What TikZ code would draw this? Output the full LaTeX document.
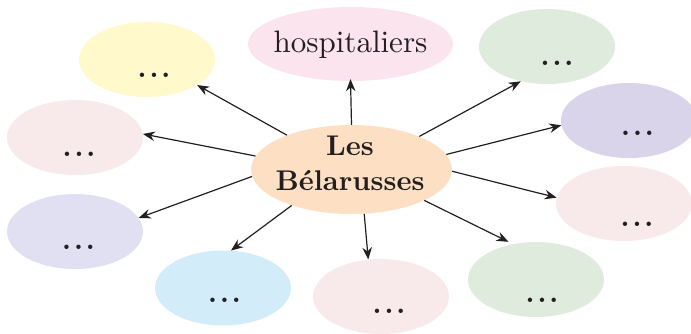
\documentclass[tikz,border=0pt]{standalone}
\usepackage{fontspec}
\newfontfamily\lmten{lmroman10-regular}[Extension=.otf, BoldFont=lmroman10-bold]
\usetikzlibrary{shapes.geometric,arrows.meta}
\definecolor{txt}{HTML}{231F20}
\definecolor{cpeach}{HTML}{FDE0C4}
\definecolor{chosp}{HTML}{FCE4EF}
\definecolor{cyel}{HTML}{FFF9CC}
\definecolor{cpink}{HTML}{F8EAEA}
\definecolor{clav}{HTML}{E0E0F2}
\definecolor{cblue}{HTML}{D3ECF9}
\definecolor{cgreen}{HTML}{DFEBDC}
\definecolor{cpurple}{HTML}{D9D4EA}
\newcommand{\tdots}{.\kern3pt.\kern3pt.}
\tikzset{
  bub/.style={ellipse, inner sep=0pt, minimum width=136pt, minimum height=75pt},
  dotsn/.style={inner sep=0pt, text=txt, font=\lmten\bfseries\fontsize{28}{30}\selectfont},
  arr/.style={-{Stealth[length=12pt,width=9.5pt]}, line width=1.2pt, draw=txt},
}
\begin{document}
\begin{tikzpicture}[x=1pt,y=-1pt]
\useasboundingbox (0,0) rectangle (691,333);
% centre
\node[ellipse, fill=cpeach, inner sep=0pt, minimum width=201pt, minimum height=89pt] (c) at (351.5,169.5) {};
\node[align=center, text=txt, font=\lmten\bfseries\fontsize{28.5}{35}\selectfont, inner sep=0pt] (ct) at (350,163.5) {Les\\B\'elarusses};
% outer bubbles
\node[ellipse, fill=chosp, inner sep=0pt, minimum width=205pt, minimum height=74pt] (hosp) at (350.5,44) {};
\node[text=txt, font=\lmten\fontsize{31}{35}\selectfont, inner sep=0pt] (hospt) at (350.5,45) {hospitaliers};
\node[bub, fill=cyel] (yel) at (147,59.5) {};
\node[bub, fill=cpink] (lp) at (75,137.5) {};
\node[bub, fill=clav] (lav) at (75,231.5) {};
\node[bub, fill=cblue] (lb) at (223,288) {};
\node[bub, fill=cpink] (bp) at (381,296.5) {};
\node[bub, fill=cgreen] (gb) at (536,279.5) {};
\node[bub, fill=cpink] (rp) at (624,203.5) {};
\node[bub, fill=cpurple] (pur) at (629,120.5) {};
\node[bub, fill=cgreen] (gt) at (547,46.5) {};
% dots
\node[dotsn] (d1) at (154,75) {\tdots};
\node[dotsn] (d2) at (79,154) {\tdots};
\node[dotsn] (d3) at (78.5,247) {\tdots};
\node[dotsn] (d4) at (224.5,300) {\tdots};
\node[dotsn] (d5) at (389,311) {\tdots};
\node[dotsn] (d6) at (542,300) {\tdots};
\node[dotsn] (d7) at (637,224) {\tdots};
\node[dotsn] (d8) at (637.5,133) {\tdots};
\node[dotsn] (d9) at (557,63) {\tdots};
% arrows
\draw[arr] (c.152.9) -- (yel.-27.5);
\draw[arr] (c.172.6) -- (lp.3);
\draw[arr] (c.90) -- ([yshift=2pt]hosp.-90);
\draw[arr] (c.26.7) -- (gt.-127);
\draw[arr] (c.9.4) -- (pur.184.6);
\draw[arr] (c.-1.5) -- (rp.175.3);
\draw[arr, shorten >=5pt] (c.-23.1) -- (gb.123);
\draw[arr] (c.-74) -- (bp.109);
\draw[arr] (c.211.3) -- (lb.78);
\draw[arr] (c.184.9) -- (lav.12);
\end{tikzpicture}
\end{document}
